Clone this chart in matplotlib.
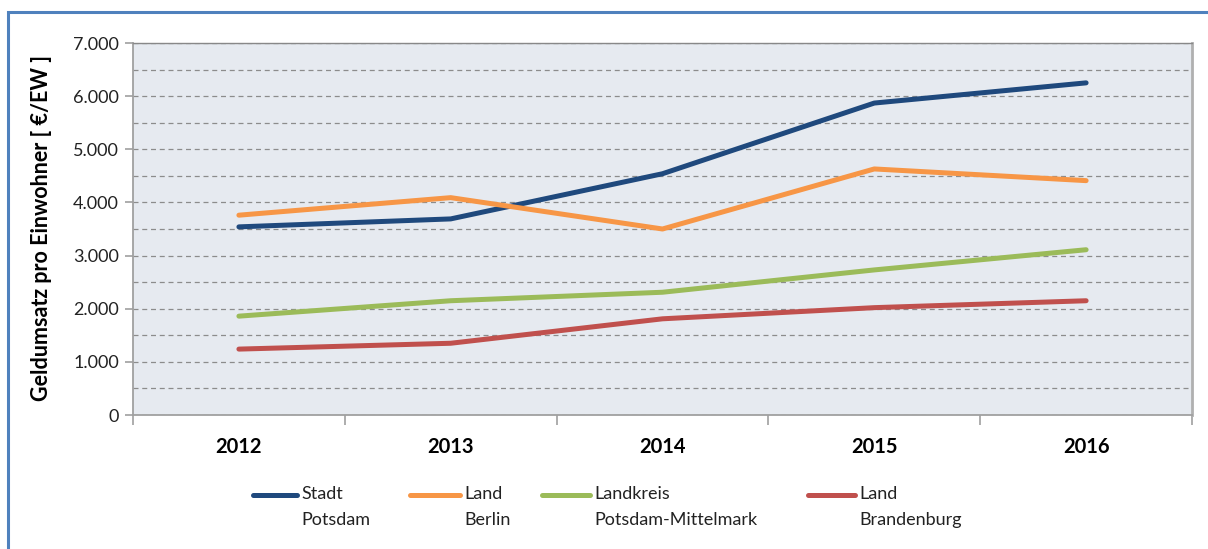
import matplotlib
matplotlib.use("Agg")
import matplotlib.pyplot as plt
from matplotlib.lines import Line2D
from matplotlib.patches import Rectangle
from matplotlib.ticker import FuncFormatter, MultipleLocator, FixedLocator

plt.rcParams["font.family"] = ["Lato", "DejaVu Sans"]

# ── Daten ──
years = ["2012", "2013", "2014", "2015", "2016"]
stadt_potsdam = [3540, 3690, 4540, 5870, 6250]
land_berlin = [3760, 4090, 3500, 4630, 4410]
landkreis_pm = [1860, 2150, 2310, 2730, 3110]
land_brandenburg = [1240, 1350, 1810, 2020, 2150]

series_labels = ["Stadt\nPotsdam", "Land\nBerlin", "Landkreis\nPotsdam-Mittelmark", "Land\nBrandenburg"]
series_values = [stadt_potsdam, land_berlin, landkreis_pm, land_brandenburg]
colors = ["#1F497D", "#F79646", "#9BBB59", "#C0504D"]

fig = plt.figure(figsize=(12.08, 5.49), dpi=100)
ax = fig.add_axes([133 / 1208, 1 - 415 / 549, (1192 - 133) / 1208, (415 - 43) / 549])
ax.set_facecolor("#E6EAF0")

x = list(range(len(years)))
for vals, c in zip(series_values, colors):
    ax.plot(x, vals, color=c, lw=3.6, solid_capstyle="round", solid_joinstyle="round", zorder=3)

ax.set_xlim(-0.5, len(years) - 0.5)
ax.set_ylim(0, 7000)
ax.yaxis.set_major_locator(MultipleLocator(1000))
ax.yaxis.set_minor_locator(MultipleLocator(500))
ax.yaxis.set_major_formatter(FuncFormatter(lambda v, p: f"{int(v):,}".replace(",", ".")))
ax.grid(axis="y", which="both", color="#8C8C8C", ls=(0, (4, 3)), lw=0.9, zorder=1)

# Kategorie-Beschriftung mittig, Ticks an den Grenzen
ax.xaxis.set_major_locator(FixedLocator([i - 0.5 for i in range(len(years) + 1)]))
ax.xaxis.set_major_formatter(FuncFormatter(lambda v, p: ""))
ax.xaxis.set_minor_locator(FixedLocator(x))
ax.set_xticks(x, years, minor=True)
ax.tick_params(axis="x", which="minor", length=0, pad=16, labelsize=14.5)
ax.tick_params(axis="x", which="major", length=7, color="#A0A0A0", width=1.2)
ax.tick_params(axis="y", which="major", length=6, color="#A0A0A0", width=1.2, labelsize=13,
               labelcolor="#222222", pad=4)
ax.tick_params(axis="y", which="minor", length=0)
for lbl in ax.get_xticklabels(minor=True):
    lbl.set_fontweight("bold")

for side in ["left", "bottom"]:
    ax.spines[side].set_color("#A0A0A0")
    ax.spines[side].set_linewidth(1.3)
ax.spines["top"].set_color("#888888")
ax.spines["top"].set_linewidth(1.0)
ax.spines["right"].set_color("#B0B0B0")
ax.spines["right"].set_linewidth(2.0)

fig.text(42 / 1208, 1 - 228 / 549, "Geldumsatz pro Einwohner [ €/EW ]", rotation=90,
         ha="center", va="center", fontsize=15.5, fontweight="bold")

# Legende
leg_x = [253, 410, 542, 808]
leg_len = [44, 50, 48, 47]
for lx, ll, lab, c in zip(leg_x, leg_len, series_labels, colors):
    y0 = 1 - 495 / 549
    fig.add_artist(Line2D([lx / 1208, (lx + ll) / 1208], [y0, y0], color=c, lw=3.6,
                          solid_capstyle="round", transform=fig.transFigure))
    fig.text((lx + ll + 4) / 1208, 1 - 486 / 549, lab, ha="left", va="top",
             fontsize=13, linespacing=1.75, color="#222222")

# Rahmen
fig.add_artist(Rectangle((8 / 1208, -0.05), 1.2, 1 - 12 / 549 + 0.05, transform=fig.transFigure,
                         fill=False, edgecolor="#4F81BD", lw=2.2))

fig.savefig("out.png", dpi=100)
